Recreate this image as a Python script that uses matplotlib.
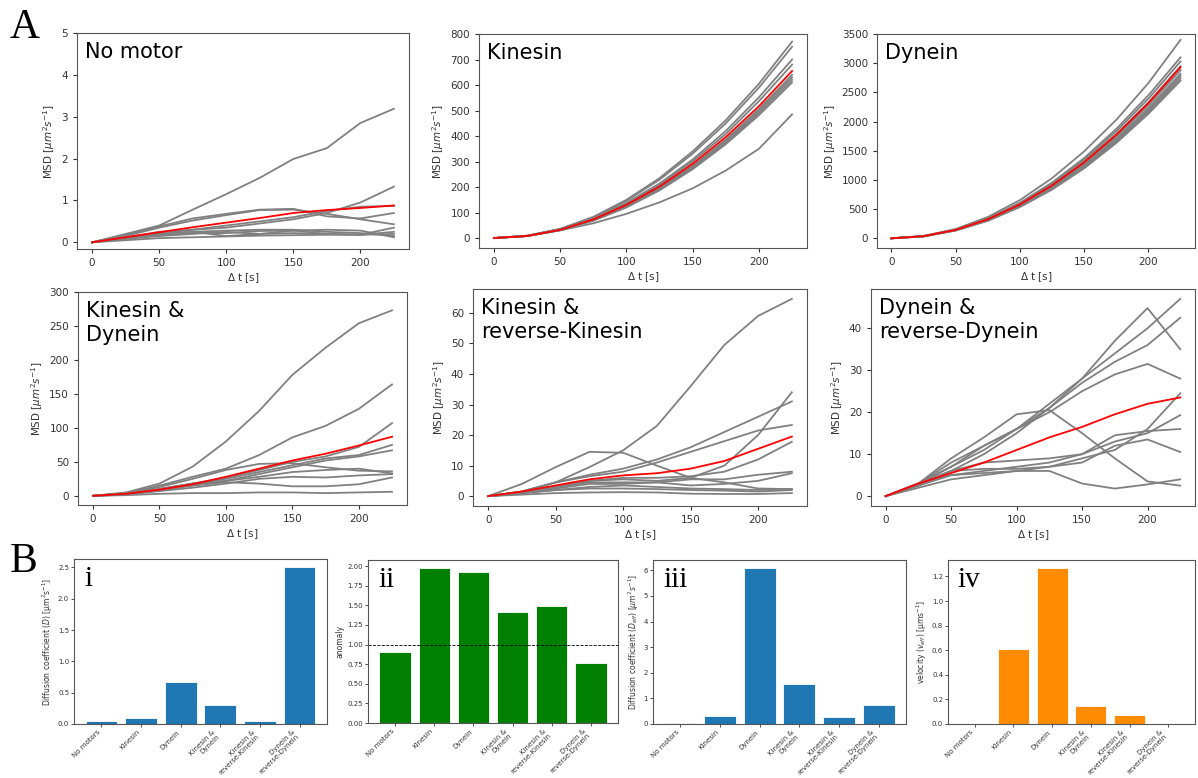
import matplotlib.pyplot as plt

W, H = 1198, 778

# lag times [s]
t = [0, 25, 50, 75, 100, 125, 150, 175, 200, 225]

# MSD curves, one list per trajectory (grey), red = ensemble mean
no_motor = [
    [0, 0.20, 0.40, 0.78, 1.15, 1.54, 1.99, 2.25, 2.85, 3.19],
    [0, 0.12, 0.25, 0.30, 0.35, 0.45, 0.55, 0.70, 0.95, 1.33],
    [0, 0.18, 0.38, 0.57, 0.68, 0.78, 0.80, 0.62, 0.57, 0.70],
    [0, 0.15, 0.35, 0.52, 0.65, 0.77, 0.78, 0.68, 0.55, 0.43],
    [0, 0.10, 0.22, 0.30, 0.40, 0.50, 0.60, 0.75, 0.85, 0.87],
    [0, 0.10, 0.20, 0.25, 0.28, 0.30, 0.30, 0.25, 0.22, 0.15],
    [0, 0.10, 0.18, 0.22, 0.22, 0.27, 0.28, 0.30, 0.28, 0.12],
    [0, 0.08, 0.15, 0.20, 0.25, 0.20, 0.22, 0.20, 0.18, 0.35],
    [0, 0.05, 0.10, 0.12, 0.14, 0.16, 0.17, 0.18, 0.18, 0.20],
    [0, 0.10, 0.20, 0.25, 0.15, 0.20, 0.28, 0.20, 0.18, 0.25],
]
no_motor_mean = [0, 0.12, 0.24, 0.36, 0.47, 0.58, 0.70, 0.77, 0.82, 0.88]

kinesin = [
    [0, 9, 36, 83, 150, 235, 340, 462, 605, 770],
    [0, 9, 35, 81, 146, 229, 331, 450, 590, 750],
    [0, 9, 35, 78, 138, 214, 308, 420, 552, 700],
    [0, 8, 34, 76, 134, 208, 300, 408, 537, 680],
    [0, 8, 32, 71, 126, 196, 283, 386, 506, 640],
    [0, 8, 32, 70, 124, 193, 279, 380, 498, 630],
    [0, 8, 31, 69, 122, 190, 275, 374, 490, 620],
    [0, 8, 31, 68, 120, 187, 270, 368, 482, 610],
    [0, 8, 30, 58, 95, 140, 195, 265, 350, 485],
]
kinesin_mean = [0, 8, 32, 73, 130, 202, 291, 396, 517, 655]

dynein = [
    [0, 40, 160, 365, 655, 1030, 1490, 2030, 2660, 3400],
    [0, 37, 150, 340, 610, 955, 1375, 1875, 2450, 3100],
    [0, 37, 148, 335, 600, 935, 1345, 1833, 2393, 3030],
    [0, 36, 146, 327, 584, 911, 1310, 1785, 2330, 2950],
    [0, 35, 142, 320, 570, 890, 1279, 1742, 2275, 2880],
    [0, 35, 139, 313, 558, 871, 1252, 1706, 2228, 2820],
    [0, 34, 137, 309, 550, 859, 1234, 1682, 2196, 2780],
    [0, 34, 135, 304, 543, 847, 1217, 1658, 2165, 2740],
    [0, 33, 133, 300, 535, 834, 1199, 1633, 2133, 2700],
]
dynein_mean = [0, 36, 145, 325, 580, 905, 1302, 1773, 2315, 2930]

kin_dyn = [
    [0, 5, 18, 43, 80, 125, 178, 218, 254, 273],
    [0, 4, 15, 28, 40, 60, 86, 103, 128, 164],
    [0, 3, 10, 18, 27, 38, 50, 58, 72, 107],
    [0, 3, 10, 18, 25, 35, 45, 55, 60, 75],
    [0, 3, 9, 16, 22, 32, 42, 52, 58, 67],
    [0, 4, 13, 25, 38, 47, 48, 42, 37, 36],
    [0, 3, 10, 18, 22, 28, 35, 38, 40, 33],
    [0, 2, 8, 15, 20, 18, 14, 14, 17, 27],
    [0, 2, 7, 12, 18, 25, 28, 27, 30, 32],
    [0, 1, 3, 4, 4, 5, 5, 4, 5, 6],
]
kin_dyn_mean = [0, 3, 9, 17, 28, 40, 52, 62, 74, 87]

kin_rkin = [
    [0, 1.5, 4.5, 9.5, 15, 23, 36, 49.5, 59, 64.6],
    [0, 4, 9.5, 14.5, 14.2, 10, 6, 4.5, 2.5, 2.3],
    [0, 1, 3, 5, 5.5, 5, 6, 10, 20, 34],
    [0, 1.5, 4.5, 7, 9, 12, 16, 21, 26, 31],
    [0, 1.5, 4.5, 6.5, 8, 11, 14.5, 18, 21.5, 23.3],
    [0, 1, 3, 5, 6, 6, 6.5, 8, 12, 17.8],
    [0, 1, 3, 4.5, 4.5, 4.5, 5.5, 5.5, 7, 8],
    [0, 1, 2.5, 4, 4, 4.5, 3.5, 4, 5, 7.5],
    [0, 1, 2, 3, 3.5, 3, 2.5, 2.3, 2, 2.3],
    [0, 0.5, 1, 1.2, 1.3, 1.2, 0.8, 0.7, 0.7, 1],
    [0, 1, 2, 2.5, 2.5, 2.3, 2, 1.8, 1.5, 2],
]
kin_rkin_mean = [0, 1.5, 3.5, 5.5, 6.8, 7.5, 9, 11.5, 15.5, 19.5]

dyn_rdyn = [
    [0, 3, 8, 12, 16, 22, 28, 37, 44.8, 35],
    [0, 3, 7, 11, 16, 21, 28, 34, 40, 47],
    [0, 3, 6, 10, 15, 21, 27, 32, 36, 42.5],
    [0, 3, 7, 12, 16, 20, 25, 29, 31.5, 28],
    [0, 3, 9, 14, 19.5, 20.5, 15, 9, 3.5, 2.5],
    [0, 3, 6, 6.5, 6.5, 7, 9, 11, 16, 24.5],
    [0, 3, 5, 6, 7, 8, 10, 13, 15, 19.3],
    [0, 2.5, 6, 8, 8.5, 9, 10, 14.5, 15.5, 16],
    [0, 2, 4, 5, 6, 7, 8, 12, 13.5, 10.5],
    [0, 2.5, 5, 5.5, 6, 6, 3, 1.8, 2.8, 4],
]
dyn_rdyn_mean = [0, 3, 5.5, 8, 11, 14, 16.5, 19.5, 22, 23.5]

panel_titles = ["No motor", "Kinesin", "Dynein",
                "Kinesin &\nDynein", "Kinesin &\nreverse-Kinesin", "Dynein &\nreverse-Dynein"]

# bar charts (B)
conditions = ["No motors", "Kinesin", "Dynein", "Kinesin &\nDynein",
              "Kinesin &\nreverse-Kinesin", "Dynein &\nreverse-Dynein"]
diff_coef = [0.05, 0.10, 0.67, 0.31, 0.04, 2.51]
anomaly = [0.90, 1.98, 1.92, 1.41, 1.49, 0.77]
diff_eff = [0.02, 0.32, 6.10, 1.55, 0.28, 0.73]
velocity = [0.0, 0.61, 1.27, 0.15, 0.075, 0.0]


def px_axes(fig, l, top, r, b):
    return fig.add_axes([l / W, 1 - b / H, (r - l) / W, (b - top) / H])


def style(ax, fs):
    for s in ax.spines.values():
        s.set_color('#555555')
    ax.tick_params(labelsize=fs, colors='#333333', length=3, width=0.8)


fig = plt.figure(figsize=(W / 100, H / 100), dpi=100)

msd_sets = [(no_motor, no_motor_mean), (kinesin, kinesin_mean), (dynein, dynein_mean),
            (kin_dyn, kin_dyn_mean), (kin_rkin, kin_rkin_mean), (dyn_rdyn, dyn_rdyn_mean)]
msd_rects = [(77, 33, 409, 249), (479, 34, 807, 248), (877, 34, 1195, 248),
             (78, 292, 407, 505), (473, 289, 807, 506), (871, 289, 1195, 506)]
ylims = [(-0.16, 5.0), (-39, 800), (-166, 3500), (-13.5, 300), None, None]

for (curves, mean), rect, title, yl in zip(msd_sets, msd_rects, panel_titles, ylims):
    ax = px_axes(fig, *rect)
    for c in curves:
        ax.plot(t, c, color='grey', lw=1.3)
    ax.plot(t, mean, color='red', lw=1.3)
    if yl is not None:
        ax.set_ylim(*yl)
    ax.set_xticks([0, 50, 100, 150, 200])
    ax.set_xlabel(r'$\Delta$ t [s]', fontsize=7.5, color='#333333', labelpad=2)
    ax.set_ylabel(r'MSD [$\mu m^2 s^{-1}$]', fontsize=7.5, color='#333333', labelpad=3)
    ax.text(0.025, 0.96, title, transform=ax.transAxes, fontsize=15,
            va='top', ha='left', linespacing=1.25)
    style(ax, 7.5)

bar_sets = [
    (diff_coef, '#1f77b4', r'Diffusion coefficient ($D$) [$\mathrm{\mu m^2 s^{-1}}$]', 'i', (74, 559, 327, 724)),
    (anomaly, 'green', 'anomaly', 'ii', (368, 560, 618, 723)),
    (diff_eff, '#1f77b4', r'Diffusion coefficient ($D_{eff}$) [$\mu m^2 s^{-1}$]', 'iii', (653, 560, 906, 724)),
    (velocity, 'darkorange', r'velocity ($v_{eff}$) [$\mathrm{\mu m s^{-1}}$]', 'iv', (948, 560, 1195, 724)),
]

for vals, col, ylab, num, rect in bar_sets:
    ax = px_axes(fig, *rect)
    ax.bar(range(len(vals)), vals, color=col, edgecolor='white', linewidth=0.6)
    if num == 'ii':
        ax.axhline(1.0, color='black', ls='--', lw=0.6)
    ax.set_xticks(range(len(conditions)))
    ax.set_xticklabels(conditions, rotation=45, ha='right', fontsize=5.0,
                       linespacing=1.0)
    ax.set_ylabel(ylab, fontsize=5.5, color='#333333', labelpad=2)
    ax.text(0.04, 0.96, num, transform=ax.transAxes, fontsize=21,
            family='Liberation Serif', va='top', ha='left')
    style(ax, 5.0)
    ax.tick_params(length=2, width=0.6, pad=1.5)

fig.text(10 / W, 1 - 8 / H, 'A', fontsize=30, family='Liberation Serif', va='top')
fig.text(10 / W, 1 - 542 / H, 'B', fontsize=30, family='Liberation Serif', va='top')

fig.savefig('out.png', dpi=100)
